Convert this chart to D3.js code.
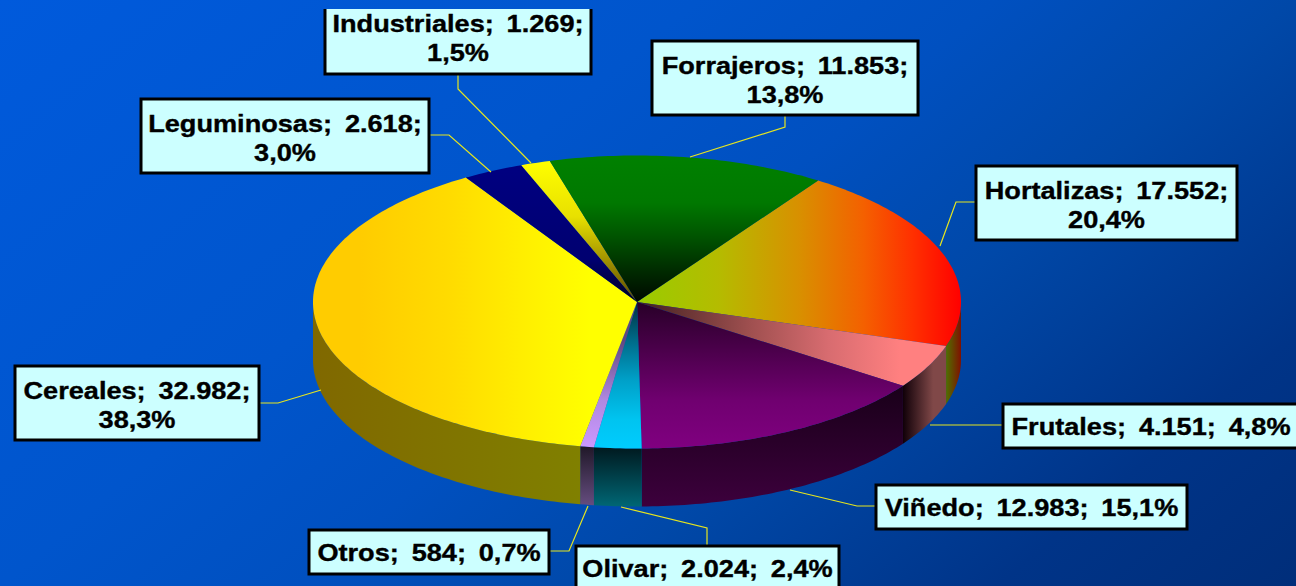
<!DOCTYPE html>
<html lang="es">
<head>
  <meta charset="UTF-8">
  <title>Superficie de cultivos</title>
  <script src="https://d3js.org/d3.v7.min.js"></script>
  <style>
    html, body { margin: 0; padding: 0; background: #0058d8; overflow: hidden; }
    svg { display: block; }
    .box { fill: #ccffff; stroke: #000; stroke-width: 3px; }
    .leader { fill: none; stroke: #e6e61e; stroke-width: 1.2px; }
    .label text {
      font: bold 23px "Liberation Sans", Arial, sans-serif;
      text-anchor: middle;
      fill: #000;
      stroke: #000;
      stroke-width: 0.35px;
      word-spacing: 4.5px;
    }
  </style>
</head>
<body>
  <svg id="chart" width="1296" height="586"></svg>

  <script>
    // Data, in drawing order, clockwise from the Forrajeros/Hortalizas edge
    const categories = ["Hortalizas", "Frutales", "Viñedo", "Olivar", "Otros", "Cereales", "Leguminosas", "Industriales", "Forrajeros"];
    const values = [17552, 4151, 12983, 2024, 584, 32982, 2618, 1269, 11853];

    const width = 1296, height = 586;
    const cx = 637, cy = 302, rx = 324, ry = 146.5, depth = 58;
    const startDeg = 34;
    const textStretch = 1.18;

    // Projection of the unit circle onto the tilted pie
    const px = d3.scaleLinear().domain([-1, 1]).range([cx - rx, cx + rx]);
    const py = d3.scaleLinear().domain([-1, 1]).range([cy + ry, cy - ry]);

    const es = d3.formatLocale({ decimal: ",", thousands: ".", grouping: [3], currency: ["", " €"] });
    const fmtValue = es.format(",d");
    const fmtPct = es.format(".1f");

    // Gradients: [x1, y1, x2, y2, [offset, colour]...]
    const topFills = {
      "Hortalizas": [637, 0, 961, 0, [0, "#99cc00"], [0.25, "#b4bc00"], [0.5, "#d89000"], [0.7, "#f46000"], [0.85, "#ff3000"], [1, "#ff0000"]],
      "Frutales": [637, 0, 946, 0, [0, "#402020"], [0.37, "#a05050"], [0.62, "#d86c70"], [0.85, "#ff8080"], [1, "#ff8080"]],
      "Viñedo": [0, 302, 0, 449, [0, "#280028"], [0.67, "#700070"], [1, "#800080"]],
      "Olivar": [0, 302, 0, 449, [0, "#003040"], [0.26, "#006a88"], [0.53, "#00a0c8"], [0.8, "#00c4f0"], [1, "#00ccff"]],
      "Otros": [0, 340, 0, 449, [0, "#604880"], [0.55, "#b088e0"], [1, "#cc99ff"]],
      "Cereales": [313, 0, 590, 0, [0, "#ffcc00"], [0.17, "#ffcc00"], [0.5, "#ffdc00"], [0.86, "#fff600"], [1, "#ffff00"]],
      "Leguminosas": [0, 170, 0, 302, [0, "#000080"], [0.68, "#000070"], [1, "#000020"]],
      "Industriales": [0, 160, 0, 302, [0, "#ffff00"], [0.4, "#e8e000"], [1, "#5c4800"]],
      "Forrajeros": [0, 156, 0, 302, [0, "#008000"], [0.32, "#007800"], [0.55, "#005400"], [0.78, "#002c00"], [1, "#000800"]]
    };
    const sideFills = {
      "Hortalizas": [946, 0, 961, 0, [0, "#4f7000"], [1, "#801000"]],
      "Frutales": [903, 0, 946, 0, [0, "#100008"], [0.7, "#804848"], [1, "#804848"]],
      "Viñedo": [0, 390, 0, 505, [0, "#1a001a"], [1, "#3c003c"]],
      "Olivar": [0, 448, 0, 506, [0, "#001a20"], [1, "#006674"]],
      "Otros": [0, 446, 0, 506, [0, "#201828"], [1, "#664d80"]],
      "Cereales": [313, 0, 580, 0, [0, "#806800"], [1, "#808000"]]
    };

    // Callout boxes: x, y, w, h, text split point, leader polyline
    const callouts = {
      "Hortalizas": { box: [976, 166, 261, 74], split: 2, leader: [[975, 202], [956, 202], [940, 246]] },
      "Frutales": { box: [1003, 404, 296, 44], split: 3, leader: [[1002, 425], [930, 425]] },
      "Viñedo": { box: [876, 485, 311, 44], split: 3, leader: [[876, 506], [857, 506], [790, 490]] },
      "Olivar": { box: [576, 546, 263, 50], split: 3, leader: [[707, 545], [707, 528], [621, 507]] },
      "Otros": { box: [309, 530, 240, 44], split: 3, leader: [[550, 551], [569, 551], [588, 506]] },
      "Cereales": { box: [15, 366, 244, 74], split: 2, leader: [[260, 403], [278, 403], [321, 390]] },
      "Leguminosas": { box: [141, 99, 288, 74], split: 2, leader: [[430, 135], [449, 135], [491, 172]] },
      "Industriales": { box: [325, -1, 266, 75], split: 2, leader: [[458, 74], [458, 89], [531, 163]] },
      "Forrajeros": { box: [652, 41, 266, 74], split: 2, leader: [[785, 115], [785, 127], [690, 157]] }
    };

    const svg = d3.select("#chart");
    const defs = svg.append("defs");

    function addGradient(id, g) {
      const grad = defs.append("linearGradient")
        .attr("id", id)
        .attr("gradientUnits", "userSpaceOnUse")
        .attr("x1", g[0]).attr("y1", g[1]).attr("x2", g[2]).attr("y2", g[3]);
      g.slice(4).forEach(s => {
        grad.append("stop").attr("offset", s[0]).attr("stop-color", s[1]);
      });
    }

    addGradient("bg", [0, 0, 824.5, 981.9,
      [0, "#005adc"], [0.35, "#0055cc"], [0.5, "#0050c0"], [0.65, "#0048a8"], [0.85, "#003488"], [1, "#002e7a"]]);
    categories.forEach((c, i) => {
      addGradient("top" + i, topFills[c]);
      if (sideFills[c]) addGradient("side" + i, sideFills[c]);
    });

    svg.append("rect").attr("width", width).attr("height", height).attr("fill", "url(#bg)");

    const pie = d3.pie().sort(null)
      .startAngle(startDeg * Math.PI / 180)
      .endAngle((startDeg + 360) * Math.PI / 180);
    const arcs = pie(values);

    function rimPoints(a0, a1) {
      const n = Math.max(2, Math.ceil((a1 - a0) * 60));
      return d3.range(n + 1).map(k => {
        const a = a0 + (a1 - a0) * k / n;
        return [px(Math.sin(a)), py(Math.cos(a))];
      });
    }
    const line = d3.line();

    // Side wall: only the front half, angles 90..270 degrees
    const sides = svg.append("g");
    arcs.forEach((d, i) => {
      const a0 = Math.max(d.startAngle, Math.PI / 2);
      const a1 = Math.min(d.endAngle, Math.PI * 1.5);
      if (a1 <= a0) return;
      const rim = rimPoints(a0, a1);
      const lower = rim.slice().reverse().map(p => [p[0], p[1] + depth]);
      sides.append("path")
        .attr("d", line(rim.concat(lower)) + "Z")
        .attr("fill", "url(#side" + i + ")");
    });

    const tops = svg.append("g");
    arcs.forEach((d, i) => {
      const pts = [[px(0), py(0)]].concat(rimPoints(d.startAngle, d.endAngle));
      tops.append("path")
        .attr("d", line(pts) + "Z")
        .attr("fill", "url(#top" + i + ")");
    });

    // Callouts
    const total = d3.sum(values);
    const labels = svg.append("g");
    categories.forEach((c, i) => {
      const co = callouts[c];
      labels.append("path").attr("class", "leader").attr("d", line(co.leader));
      const g = labels.append("g").attr("class", "label");
      g.append("rect").attr("class", "box")
        .attr("x", co.box[0]).attr("y", co.box[1])
        .attr("width", co.box[2]).attr("height", co.box[3]);
      const parts = [c + ";", fmtValue(values[i]) + ";", fmtPct(values[i] / total * 100) + "%"];
      const rows = [parts.slice(0, co.split).join(" "), parts.slice(co.split).join(" ")].filter(t => t);
      const mid = co.box[0] + co.box[2] / 2;
      const first = co.box[1] + (rows.length === 2 ? 33 : 31);
      rows.forEach((t, r) => {
        g.append("text")
          .attr("transform", `translate(${mid},${first + r * 28.5}) scale(${textStretch},1)`)
          .text(t);
      });
    });

    // The top edge of the slide cuts off the Industriales box
    svg.append("rect").attr("width", width).attr("height", 9).attr("fill", "url(#bg)");
  </script>
</body>
</html>
